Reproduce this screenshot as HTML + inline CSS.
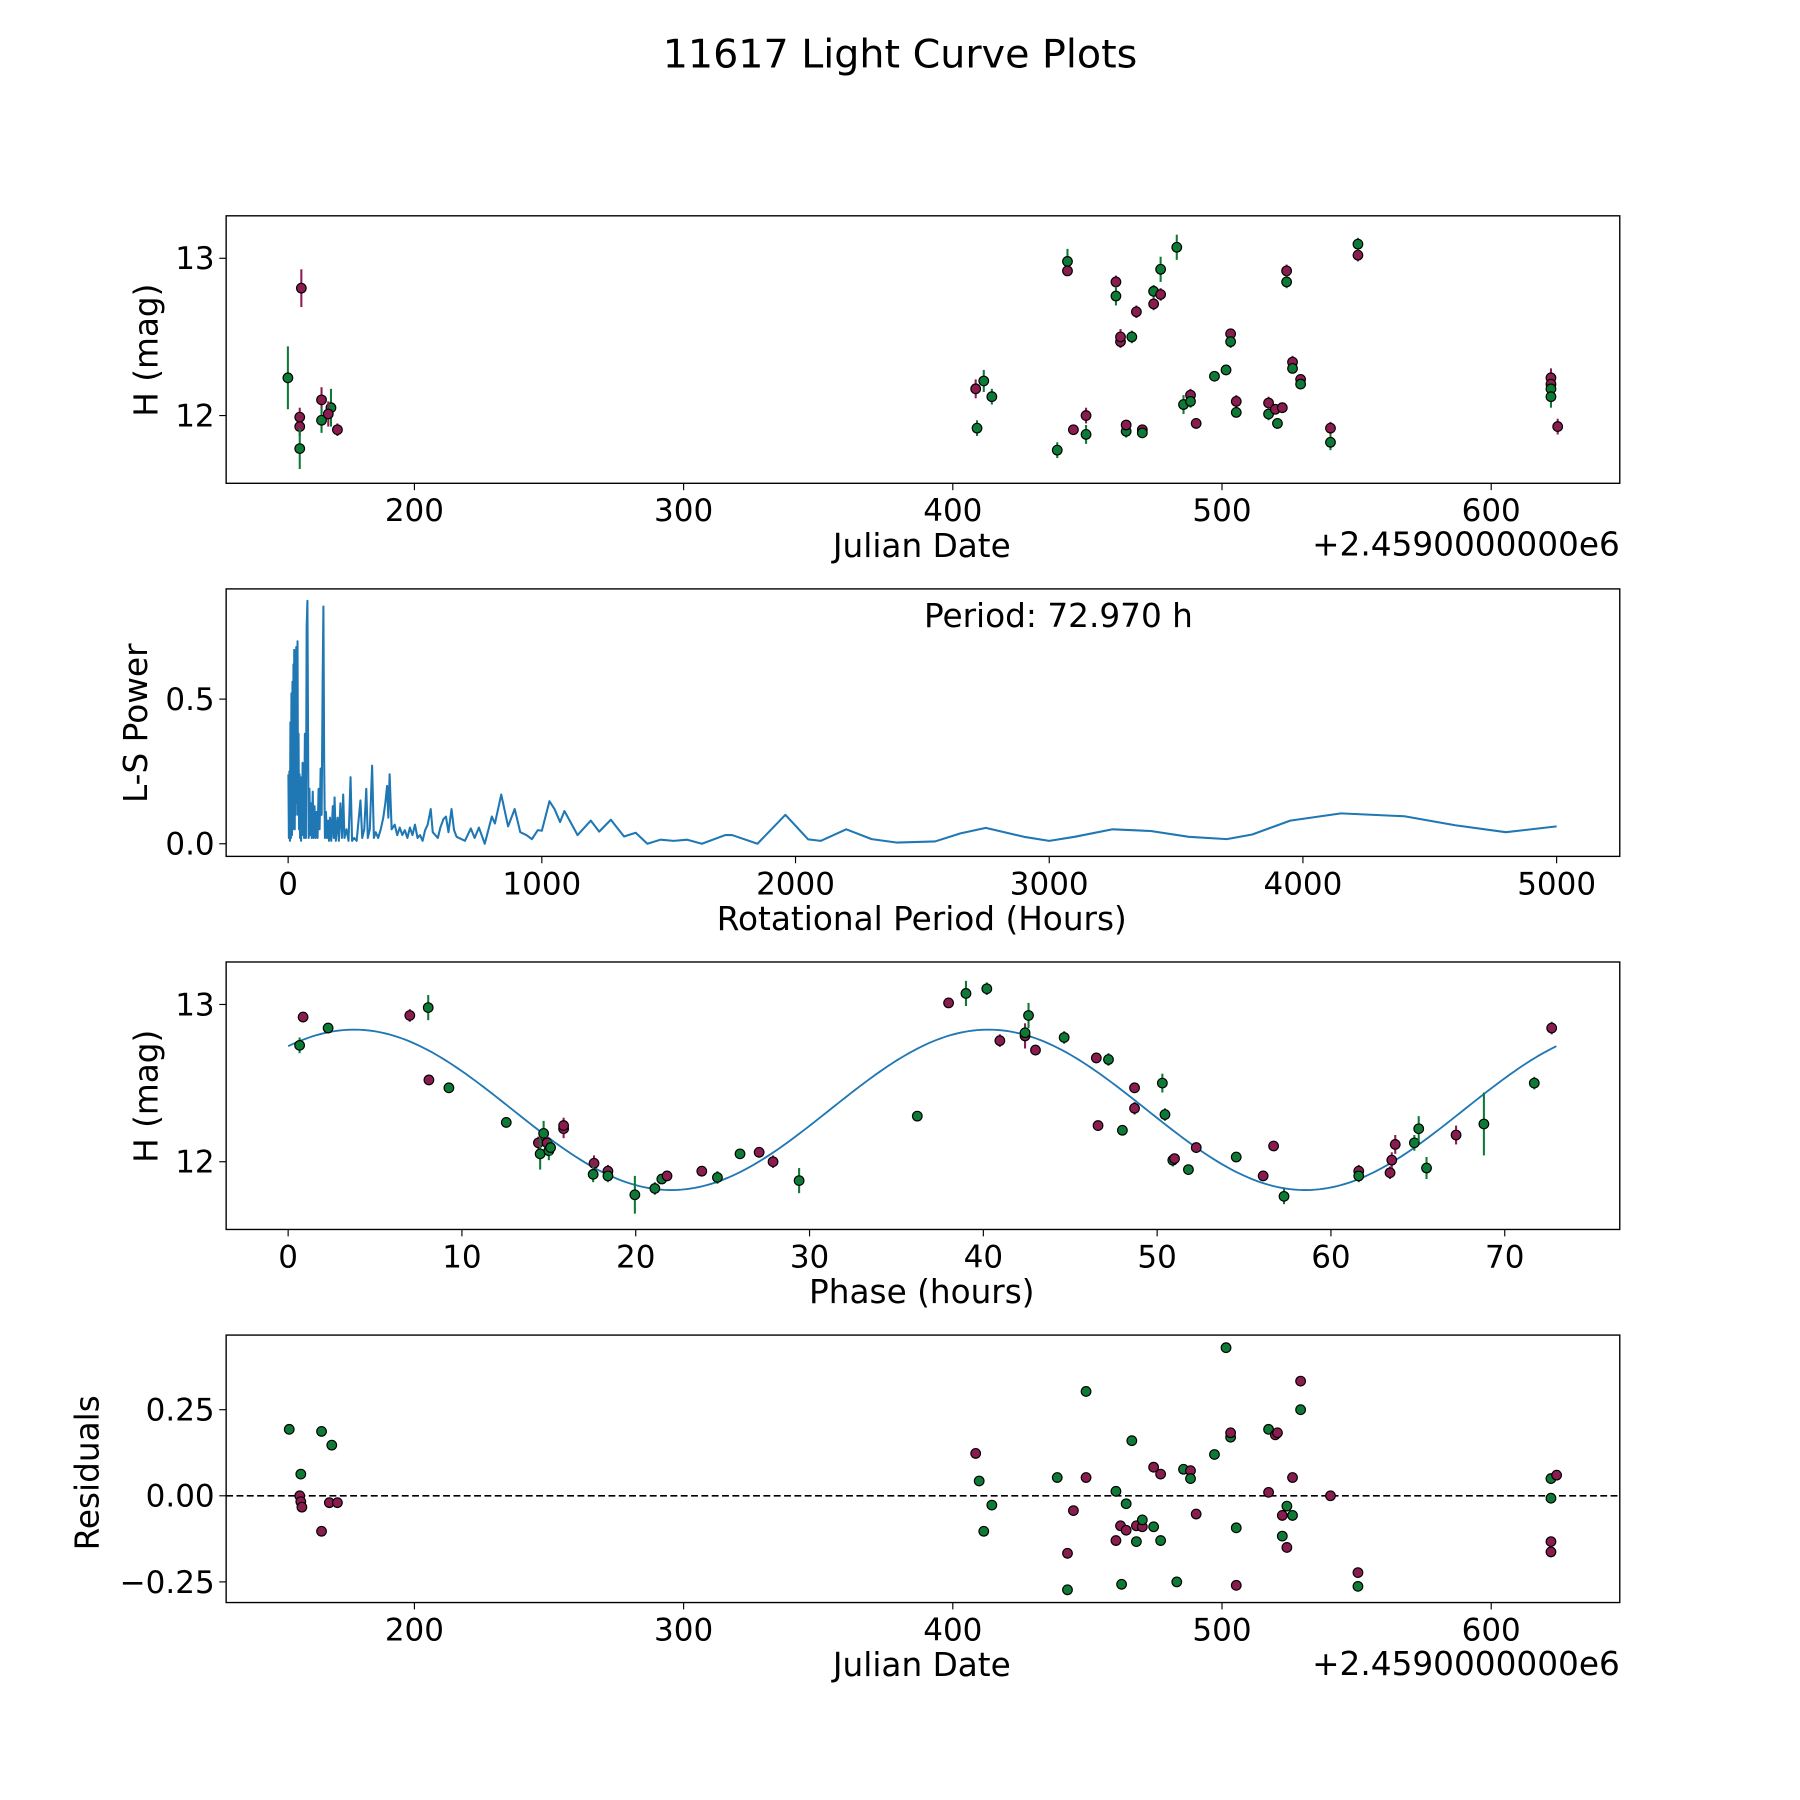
<!DOCTYPE html>
<html><head><meta charset="utf-8"><style>
html,body{margin:0;padding:0;background:#fff;}
svg{display:block;font-family:"DejaVu Sans","Liberation Sans",sans-serif;}
</style></head><body>
<svg id="fig" width="1800" height="1800" viewBox="0 0 1568 1568" xmlns="http://www.w3.org/2000/svg">
<rect width="1568" height="1568" fill="#fff"/>
<text x="784" y="59" font-size="34.5" text-anchor="middle">11617 Light Curve Plots</text>
<g id="p1"></g>
<g id="p2"></g>
<g id="p3"></g>
<g id="p4"></g>
</svg>
<script>
// ---- Panel 1: light curve ----
const lcDate=[153,158,157.4,157.4,157.4,165.5,165.5,169,168,171.4,409,408.5,411.5,414.5,438.8,442.6,442.6,444.8,449.5,449.5,460.6,460.6,462.3,462.3,464.4,464.4,466.5,468.2,470.4,470.4,474.6,474.6,477.2,477.2,483.2,485.7,488.3,488.3,490.4,497.2,501.5,503.2,503.2,505.3,505.3,517.3,517.3,519.8,520.6,522.4,524,524,526.2,526.2,529.2,529.2,540.3,540.3,550.5,550.5,622.2,622.2,622.2,622.2,624.7];
const lcMag=[12.24,12.81,11.99,11.93,11.79,12.10,11.97,12.05,12.01,11.91,11.92,12.17,12.22,12.12,11.78,12.98,12.92,11.91,12.0,11.88,12.85,12.76,12.47,12.5,11.9,11.94,12.50,12.66,11.91,11.89,12.71,12.79,12.93,12.77,13.07,12.07,12.13,12.09,11.95,12.25,12.29,12.52,12.47,12.09,12.02,12.08,12.01,12.04,11.95,12.05,12.92,12.85,12.34,12.30,12.23,12.20,11.92,11.83,13.02,13.09,12.24,12.2,12.17,12.12,11.93];
const lcErr=[0.2,0.12,0.06,0.06,0.13,0.08,0.08,0.12,0.08,0.04,0.05,0.06,0.07,0.05,0.05,0.08,0.03,0.03,0.05,0.06,0.04,0.06,0.04,0.05,0.04,0.03,0.04,0.04,0.03,0.03,0.04,0.04,0.08,0.04,0.08,0.06,0.04,0.04,0.02,0.03,0.03,0.03,0.04,0.04,0.03,0.04,0.04,0.02,0.03,0.03,0.04,0.04,0.04,0.03,0.03,0.03,0.04,0.05,0.04,0.04,0.06,0.04,0.04,0.07,0.05];
const lcBand=['g','m','m','m','g','m','g','g','m','m','g','m','g','g','g','g','m','m','m','g','m','g','m','m','g','m','g','m','m','g','m','g','g','m','g','g','m','g','m','g','g','m','g','m','g','m','g','m','g','m','m','g','m','g','m','g','m','g','m','g','m','m','g','g','m'];
// ---- Panel 2: periodogram ----
const lsPeriod=[1,3,5,7,9,11,13,15,17,19,21,23,24,26,28,30,32,34,37,39,41,43,45,47,49,51,53,55,57,59,61,63,66,70,73,76,79,81,84,87,90,93,97,100,104,108,112,116,120,124,128,132,136,139,142,145,149,153,157,161,165,170,176,180,183,188,195,200,206,212,217,222,230,238,246,252,260,270,285,292,300,308,314,322,331,338,345,355,365,375,383,390,395,400,408,420,430,440,450,460,470,480,490,500,510,520,530,540,550,562,570,580,590,600,612,622,632,644,654,664,697,720,735,752,775,803,815,840,867,893,915,939,961,984,1000,1030,1050,1072,1089,1141,1193,1226,1272,1324,1370,1416,1468,1520,1573,1631,1723,1750,1850,1960,2050,2100,2200,2300,2400,2550,2650,2750,2900,3000,3100,3250,3400,3550,3700,3800,3950,4150,4400,4600,4800,5000];
const lsPower=[0.24,0.02,0.25,0.01,0.42,0.02,0.52,0.03,0.56,0.05,0.62,0.1,0.67,0.05,0.64,0.1,0.68,0.14,0.70,0.1,0.38,0.05,0.24,0.02,0.19,0.01,0.23,0.05,0.28,0.03,0.19,0.02,0.38,0.02,0.75,0.84,0.28,0.02,0.19,0.03,0.14,0.02,0.18,0.02,0.13,0.02,0.11,0.02,0.19,0.05,0.26,0.1,0.56,0.82,0.28,0.02,0.11,0.02,0.08,0.01,0.09,0.01,0.13,0.02,0.16,0.01,0.09,0.01,0.14,0.02,0.17,0.02,0.05,0.01,0.23,0.01,0.02,0.01,0.15,0.02,0.05,0.19,0.02,0.05,0.27,0.02,0.04,0.02,0.05,0.09,0.14,0.2,0.09,0.24,0.05,0.066,0.03,0.056,0.03,0.047,0.02,0.056,0.03,0.066,0.02,0.03,0.01,0.047,0.066,0.12,0.04,0.03,0.02,0.056,0.085,0.094,0.04,0.12,0.047,0.024,0.01,0.053,0.02,0.056,0.0,0.094,0.07,0.17,0.06,0.12,0.04,0.03,0.016,0.047,0.045,0.147,0.12,0.075,0.113,0.03,0.08,0.042,0.083,0.025,0.038,0.0,0.014,0.01,0.014,0.0,0.03,0.03,0.0,0.10,0.015,0.01,0.05,0.016,0.004,0.008,0.036,0.055,0.024,0.01,0.024,0.05,0.044,0.024,0.016,0.032,0.08,0.105,0.095,0.064,0.04,0.06];
const periodLabel=['Period: 72.970 h'];
// ---- Panel 3: phase folded ----
const phPhase=[0.66,0.86,2.3,7.0,8.06,8.1,9.25,12.55,14.4,14.5,14.7,14.9,15.0,15.1,15.85,15.85,17.6,17.55,18.4,18.4,19.95,21.1,21.5,21.8,23.8,24.7,26.0,27.1,27.9,29.4,36.2,38.0,39.0,40.2,40.95,42.4,42.4,42.6,43.0,44.65,46.5,46.6,47.2,48.0,48.7,48.7,50.3,50.45,50.9,51.0,51.8,52.25,54.55,56.1,56.7,57.3,61.6,61.6,63.4,63.5,63.7,64.8,65.05,65.5,67.2,68.8,71.7,72.7];
const phMag=[12.74,12.92,12.85,12.93,12.98,12.52,12.47,12.25,12.12,12.05,12.18,12.12,12.07,12.09,12.21,12.23,11.99,11.92,11.94,11.91,11.79,11.83,11.89,11.91,11.94,11.9,12.05,12.06,12.0,11.88,12.29,13.01,13.07,13.1,12.77,12.8,12.82,12.93,12.71,12.79,12.66,12.23,12.65,12.2,12.47,12.34,12.5,12.30,12.01,12.02,11.95,12.09,12.03,11.91,12.10,11.78,11.94,11.91,11.93,12.01,12.11,12.12,12.21,11.96,12.17,12.24,12.5,12.85];
const phErr=[0.05,0.03,0.03,0.04,0.08,0.03,0.03,0.03,0.04,0.1,0.08,0.04,0.06,0.05,0.06,0.05,0.05,0.05,0.04,0.04,0.12,0.04,0.03,0.03,0.03,0.04,0.03,0.03,0.04,0.08,0.03,0.03,0.08,0.04,0.04,0.08,0.04,0.08,0.03,0.04,0.03,0.03,0.04,0.03,0.03,0.04,0.06,0.04,0.04,0.03,0.03,0.03,0.03,0.03,0.03,0.05,0.04,0.04,0.04,0.05,0.06,0.05,0.08,0.07,0.06,0.2,0.04,0.04];
const phBand=['g','m','g','m','g','m','g','g','m','g','g','m','g','g','m','m','m','g','m','g','g','g','g','m','m','g','g','m','m','g','g','m','g','g','m','m','g','g','m','g','m','m','g','g','m','m','g','g','g','m','g','m','g','m','m','g','m','g','m','m','m','g','g','g','m','g','g','m'];
const modelParams=[12.33,0.51,3.8,36.485]; // mean, amplitude, peak phase, half period
// ---- Panel 4: residuals ----
const resDate=[153.5,157.8,157.4,157.8,158.2,165.5,165.5,169.3,168.4,171.4,408.5,409.8,411.5,414.5,438.8,442.6,442.6,444.8,449.5,449.5,460.6,460.6,462.3,462.7,464.4,464.4,466.5,468.2,468.2,470.4,470.4,474.6,474.6,477.2,477.2,483.2,485.7,488.3,488.3,490.4,497.2,501.5,503.2,503.2,505.3,505.3,517.3,517.3,519.8,520.6,522.4,522.4,524.1,524.1,526.2,526.2,529.2,529.2,540.3,550.5,550.5,622.2,622.2,622.2,622.2,624.3];
const resVal=[0.193,0.063,0,-0.017,-0.033,0.187,-0.103,0.147,-0.02,-0.02,0.123,0.043,-0.103,-0.027,0.053,-0.167,-0.273,-0.043,0.303,0.053,-0.13,0.013,-0.087,-0.257,-0.1,-0.023,0.16,-0.087,-0.133,-0.09,-0.07,0.083,-0.09,0.063,-0.13,-0.25,0.077,0.073,0.05,-0.053,0.12,0.43,0.17,0.183,-0.26,-0.093,0.01,0.193,0.177,0.183,-0.117,-0.057,-0.15,-0.03,0.053,-0.057,0.333,0.25,0,-0.223,-0.263,-0.133,-0.163,-0.007,0.05,0.06];
const resBand=['g','g','m','m','m','g','m','g','m','m','m','g','g','g','g','m','g','m','g','m','m','g','m','g','m','g','g','m','g','m','g','m','g','m','g','g','g','m','g','m','g','g','g','m','m','g','m','g','m','m','g','m','m','g','m','g','m','g','m','m','g','m','m','g','g','m'];

const NS='http://www.w3.org/2000/svg';
const COL={g:'#0d7a35',m:'#8a1c50'};
const TF=27, LF=28.5;
function mk(parent,tag,attrs,text){const e=document.createElementNS(NS,tag);for(const k in attrs)e.setAttribute(k,attrs[k]);if(text!==undefined)e.textContent=text;parent.appendChild(e);return e;}
const L=197,R=1411;
function frame(g,top,bot){const r=mk(g,'rect',{x:L,y:top,width:R-L,height:bot-top,fill:'none',stroke:'#000','stroke-width':1.2});

}
function xtick(g,px,bot,label){const t=mk(g,'line',{x1:px,x2:px,y1:bot,y2:bot+6,stroke:'#000','stroke-width':1});


const s=mk(g,'text',{x:px,y:bot+33,'font-size':TF,'text-anchor':'middle'},label);

}
function ytick(g,py,label){const t=mk(g,'line',{x1:L-6,x2:L,y1:py,y2:py,stroke:'#000','stroke-width':1});


const s=mk(g,'text',{x:L-10,y:py+9.5,'font-size':TF,'text-anchor':'end'},label);

}
function label(g,x,y,txt,name,rot){const a={x:x,y:y,'font-size':LF,'text-anchor':'middle'};if(rot)a.transform='rotate(-90 '+x+' '+y+')';const s=mk(g,'text',a,txt);

return s;}
function pt(g,x,y,c,e1,e2){if(e1!==undefined){const l=mk(g,'line',{x1:x,x2:x,y1:e1,y2:e2,stroke:COL[c],'stroke-width':1.8});

}
const d=mk(g,'circle',{cx:x,cy:y,r:4.2,fill:COL[c],stroke:'#000','stroke-width':1});

}

// Panel 1
(function(){const g=document.getElementById('p1');const top=188,bot=421;
const xs=d=>361+(d-200)*2.345, ys=m=>362-(m-12)*137;
frame(g,top,bot);[200,300,400,500,600].forEach(v=>xtick(g,xs(v),bot,String(v)));
ytick(g,ys(13),'13');ytick(g,ys(12),'12');
label(g,803,485,'Julian Date','x-axis-title');label(g,137,305,'H (mag)','y-axis-title',true);
const o=mk(g,'text',{x:R,y:484,'font-size':LF,'text-anchor':'end'},'+2.4590000000e6');
lcDate.forEach((d,i)=>pt(g,xs(d),ys(lcMag[i]),lcBand[i],ys(lcMag[i]+lcErr[i]),ys(lcMag[i]-lcErr[i])));})();

// Panel 2
(function(){const g=document.getElementById('p2');const top=513,bot=746;
const xs=p=>251+p*0.221, ys=v=>735-v*252;
frame(g,top,bot);[0,1000,2000,3000,4000,5000].forEach(v=>xtick(g,xs(v),bot,String(v)));
ytick(g,ys(0.5),'0.5');ytick(g,ys(0),'0.0');
label(g,803,810,'Rotational Period (Hours)','x-axis-title');label(g,128,630,'L-S Power','y-axis-title',true);
let d='';lsPeriod.forEach((p,i)=>{d+=(i?'L':'M')+xs(p).toFixed(2)+' '+ys(lsPower[i]).toFixed(2);});
const path=mk(g,'path',{d:d,fill:'none',stroke:'#1f77b4','stroke-width':1.8,'stroke-linejoin':'round'});


const t=mk(g,'text',{x:922,y:546,'font-size':LF,'text-anchor':'middle'},periodLabel[0]);

})();

// Panel 3
(function(){const g=document.getElementById('p3');const top=838,bot=1071;
const xs=p=>251+p*15.14, ys=m=>1012-(m-12)*137;
frame(g,top,bot);[0,10,20,30,40,50,60,70].forEach(v=>xtick(g,xs(v),bot,String(v)));
ytick(g,ys(13),'13');ytick(g,ys(12),'12');
label(g,803,1135,'Phase (hours)','x-axis-title');label(g,137,955,'H (mag)','y-axis-title',true);
let d='';for(let i=0;i<=300;i++){const ph=72.97*i/300;const m=modelParams[0]+modelParams[1]*Math.cos(2*Math.PI*(ph-modelParams[2])/modelParams[3]);d+=(i?'L':'M')+xs(ph).toFixed(2)+' '+ys(m).toFixed(2);}
const path=mk(g,'path',{d:d,fill:'none',stroke:'#1f77b4','stroke-width':1.6});


phPhase.forEach((p,i)=>pt(g,xs(p),ys(phMag[i]),phBand[i],ys(phMag[i]+phErr[i]),ys(phMag[i]-phErr[i])));})();

// Panel 4
(function(){const g=document.getElementById('p4');const top=1163,bot=1396;
const xs=d=>361+(d-200)*2.345, ys=r=>1303-r*300;
frame(g,top,bot);[200,300,400,500,600].forEach(v=>xtick(g,xs(v),bot,String(v)));
ytick(g,ys(0.25),'0.25');ytick(g,ys(0),'0.00');ytick(g,ys(-0.25),'\u22120.25');
label(g,803,1460,'Julian Date','x-axis-title');label(g,86,1283,'Residuals','y-axis-title',true);
const o=mk(g,'text',{x:R,y:1459,'font-size':LF,'text-anchor':'end'},'+2.4590000000e6');
const z=mk(g,'line',{x1:L,x2:R,y1:ys(0),y2:ys(0),stroke:'#000','stroke-width':1.4,'stroke-dasharray':'6,3'});


resDate.forEach((d,i)=>pt(g,xs(d),ys(resVal[i]),resBand[i]));})();
</script>
</body></html>
